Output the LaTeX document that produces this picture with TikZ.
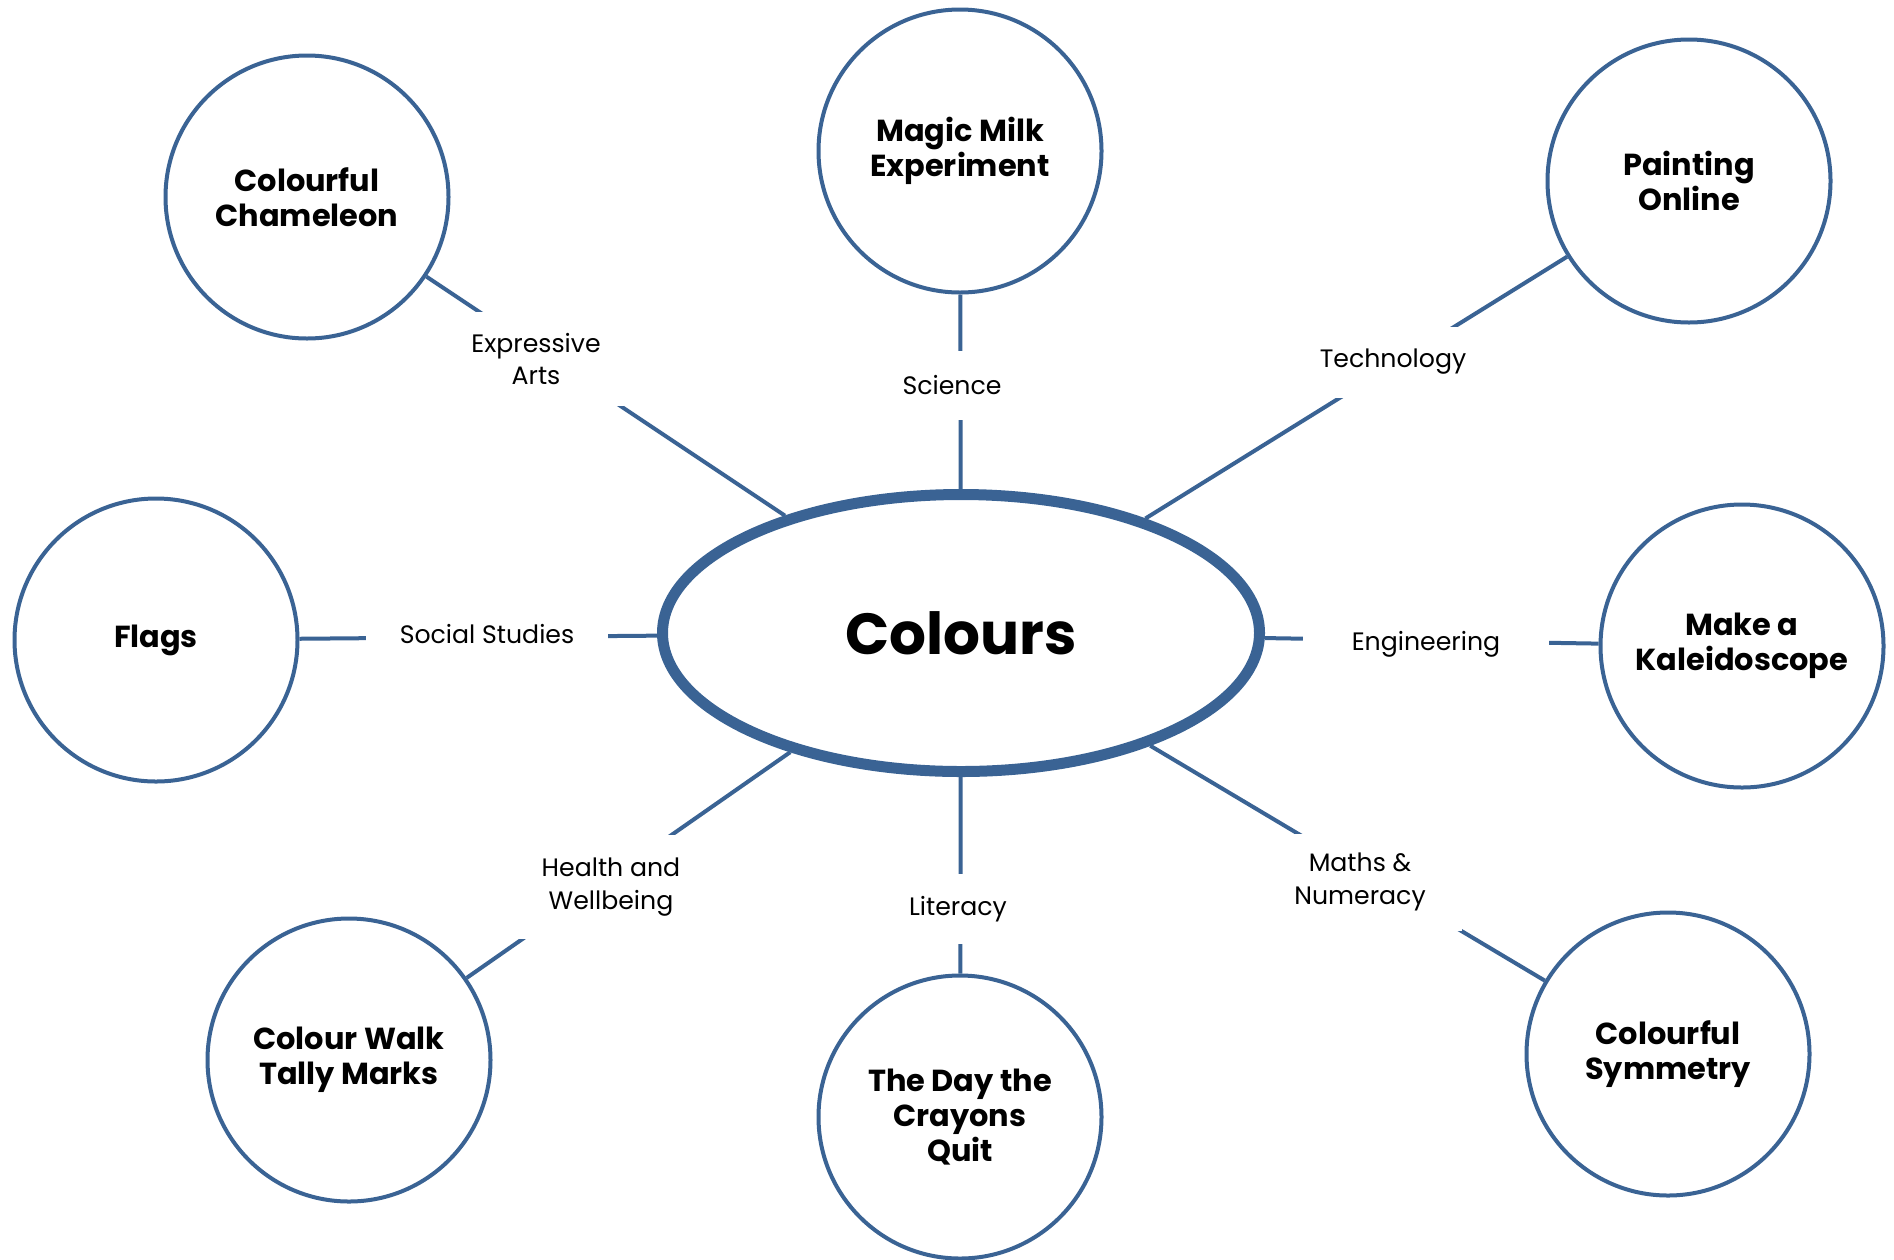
\documentclass[tikz,border=0pt]{standalone}
\usepackage{fontspec}
\setmainfont{Poppins}
\usetikzlibrary{shapes.geometric}
\definecolor{cblue}{HTML}{3A6394}
\begin{document}
\begin{tikzpicture}[x=0.5pt,y=-0.5pt,
  topic/.style={circle, draw=cblue, line width=2pt, minimum size=141.5pt, inner sep=0pt,
    align=center, font=\fontsize{15.2}{17.5}\selectfont\bfseries},
  hub/.style={ellipse, draw=cblue, line width=5.5pt, minimum width=298.5pt, minimum height=138.5pt,
    inner sep=0pt, font=\fontsize{29}{34}\selectfont\bfseries},
  link/.style={draw=cblue, line width=2pt},
  lab/.style={fill=white, inner sep=0pt, align=center, font=\fontsize{12.6}{16.3}\selectfont}]
\useasboundingbox (0,0) rectangle (1894,1259);
\node[hub] (c) at (961,633) {Colours};
\node[topic] (cham) at (307,197) {Colourful\\Chameleon};
\node[topic] (milk) at (960,151) {Magic Milk\\Experiment};
\node[topic] (paint) at (1689,181) {Painting\\Online};
\node[topic] (flags) at (156,640) {Flags};
\node[topic] (kal) at (1742,646) {Make a\\Kaleidoscope};
\node[topic] (walk) at (349,1060) {Colour Walk\\Tally Marks};
\node[topic] (cray) at (960,1117) {The Day the\\Crayons\\Quit};
\node[topic] (sym) at (1668,1054) {Colourful\\Symmetry};
\foreach \n in {cham,milk,paint,flags,kal,walk,cray,sym}
  \draw[link] (\n) -- (c);
\node[lab, minimum width=95pt, minimum height=47pt] (ea) at (536,359) {Expressive\\Arts};
\node[lab, minimum width=60pt, minimum height=34.5pt] (sci) at (952,385) {Science};
\node[lab, minimum width=80pt, minimum height=35.5pt] (tech) at (1393,362) {Technology};
\node[lab, minimum width=120.8pt, minimum height=34.5pt] (soc) at (487,634) {Social Studies};
\node[lab, minimum width=123pt, minimum height=34.5pt] (eng) at (1426,644) {Engineering};
\node[lab, minimum width=95pt, minimum height=52pt] (hw) at (611,887) {Health and\\Wellbeing};
\node[lab, minimum width=55pt, minimum height=35pt] (lit) at (958,909) {Literacy};
\node[lab, minimum width=102pt, minimum height=48.5pt] (mn) at (1360,882) {Maths \&\\Numeracy};
\end{tikzpicture}
\end{document}
